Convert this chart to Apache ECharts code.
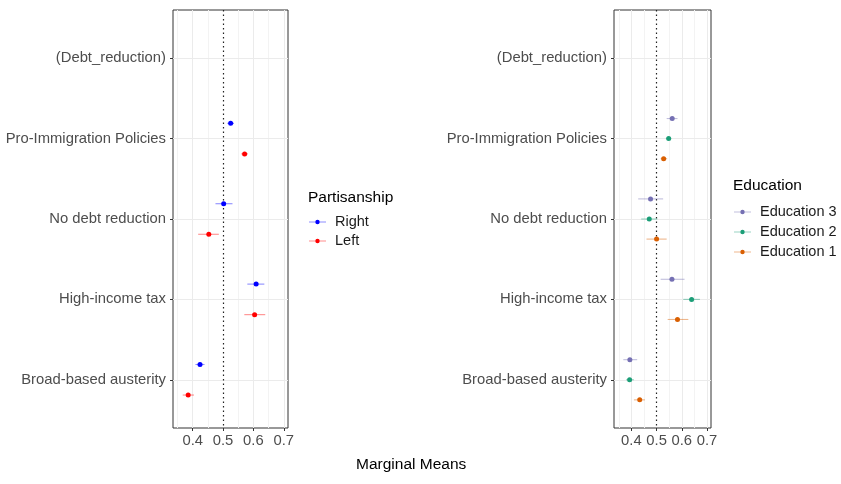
<!DOCTYPE html>
<html>
<head>
<meta charset="utf-8">
<script src="https://cdn.jsdelivr.net/npm/echarts@6/dist/echarts.min.js"></script>
<style>
  html, body { margin: 0; padding: 0; background: #ffffff; }
  #chart { width: 841px; height: 484px; }
</style>
</head>
<body>
<div id="chart"></div>
<script>
// Attribute levels, top to bottom (the first is the reference level, no estimate)
const categories = ['(Debt_reduction)', 'Pro-Immigration Policies', 'No debt reduction', 'High-income tax', 'Broad-based austerity'];
const categoryPositions = [1, 2, 3, 4, 5];
const xTicks = [0.4, 0.5, 0.6, 0.7];
const xMinorTicks = [0.35, 0.45, 0.55, 0.65];
const referenceValue = 0.5;

// Partisanship: marginal means with 95% interval bounds
const rightMean = [null, 0.525, 0.502, 0.609, 0.424];
const rightLow  = [null, 0.514, 0.475, 0.580, 0.409];
const rightHigh = [null, 0.536, 0.531, 0.636, 0.439];
const leftMean  = [null, 0.571, 0.453, 0.604, 0.385];
const leftLow   = [null, 0.560, 0.418, 0.570, 0.367];
const leftHigh  = [null, 0.582, 0.486, 0.639, 0.404];

// Education: marginal means with 95% interval bounds
const edu3Mean = [null, 0.562, 0.476, 0.561, 0.394];
const edu3Low  = [null, 0.540, 0.427, 0.516, 0.368];
const edu3High = [null, 0.583, 0.526, 0.611, 0.423];
const edu2Mean = [null, 0.548, 0.471, 0.639, 0.393];
const edu2Low  = [null, 0.537, 0.439, 0.606, 0.379];
const edu2High = [null, 0.558, 0.503, 0.672, 0.410];
const edu1Mean = [null, 0.528, 0.500, 0.583, 0.433];
const edu1Low  = [null, 0.516, 0.460, 0.544, 0.410];
const edu1High = [null, 0.542, 0.540, 0.626, 0.454];

const FONT = 'Liberation Sans, Arial, Helvetica, sans-serif';
const AXIS_TEXT = '#4d4d4d';
const AXIS_SIZE = 14.8;
const GRID_MAJOR = '#ebebeb';
const GRID_MINOR = '#f3f3f3';

// Rows: [mean, low, high, category position + dodge]
function rows(mean, low, high, dodge) {
  const out = [];
  mean.forEach((m, i) => {
    if (m !== null) out.push([m, low[i], high[i], categoryPositions[i] + dodge]);
  });
  return out;
}

function pointRange(color) {
  return function (params, api) {
    const y = api.value(3);
    const c = api.coord([api.value(0), y]);
    const a = api.coord([api.value(1), y]);
    const b = api.coord([api.value(2), y]);
    return {
      type: 'group',
      children: [
        { type: 'line', shape: { x1: a[0], y1: a[1], x2: b[0], y2: b[1] },
          style: { stroke: color, lineWidth: 1.1, opacity: 0.45 } },
        { type: 'circle', shape: { cx: c[0], cy: c[1], r: 2.5 }, style: { fill: color } }
      ]
    };
  };
}

function keyIcon(color) {
  const svg = '<svg xmlns="http://www.w3.org/2000/svg" width="21" height="8">' +
    '<line x1="0" y1="4" x2="17" y2="4" stroke="' + color + '" stroke-opacity="0.45" stroke-width="1"/>' +
    '<circle cx="8.5" cy="4" r="2.2" fill="' + color + '"/></svg>';
  return 'image://data:image/svg+xml;charset=utf-8,' + encodeURIComponent(svg);
}

function xAxisFor(gridIndex, min, max) {
  return {
    type: 'value', gridIndex: gridIndex, min: min, max: max, position: 'bottom',
    axisLine: { show: false, onZero: false },
    axisTick: { show: true, inside: false, length: 3, customValues: xTicks, lineStyle: { color: '#333333' } },
    axisLabel: { customValues: xTicks, margin: 5, color: AXIS_TEXT, fontSize: AXIS_SIZE, fontFamily: FONT,
                 formatter: v => v.toFixed(1) },
    splitLine: { show: false }
  };
}

function yAxisFor(gridIndex) {
  return {
    type: 'value', gridIndex: gridIndex, inverse: true, min: 0.4, max: 5.6, position: 'left',
    axisLine: { show: false, onZero: false },
    axisTick: { show: true, inside: false, length: 3, customValues: categoryPositions, lineStyle: { color: '#333333' } },
    axisLabel: { customValues: categoryPositions, margin: 7, color: AXIS_TEXT, fontSize: AXIS_SIZE, fontFamily: FONT,
                 formatter: v => categories[Math.round(v) - 1] },
    splitLine: { show: false }
  };
}

// Panel grid lines (major, minor, category rows) and the dotted 0.5 reference line
function guides(axisIndex) {
  const solid = (color) => ({ color: color, width: 1, type: 'solid' });
  const lines = []
    .concat(xMinorTicks.map(v => ({ xAxis: v, lineStyle: solid(GRID_MINOR) })))
    .concat(xTicks.filter(v => v !== referenceValue).map(v => ({ xAxis: v, lineStyle: solid(GRID_MAJOR) })))
    .concat(categoryPositions.map(v => ({ yAxis: v, lineStyle: solid(GRID_MAJOR) })))
    .concat([{ xAxis: referenceValue, lineStyle: { color: '#222222', width: 1.2, type: [1.5, 3] } }]);
  return {
    type: 'line', xAxisIndex: axisIndex, yAxisIndex: axisIndex, data: [], z: 1, silent: true,
    markLine: { z: 1, silent: true, symbol: 'none', animation: false, label: { show: false },
                emphasis: { disabled: true }, data: lines }
  };
}

function panelSeries(name, color, data, axisIndex) {
  return {
    name: name, type: 'custom', xAxisIndex: axisIndex, yAxisIndex: axisIndex, z: 10,
    itemStyle: { color: color },
    renderItem: pointRange(color),
    encode: { x: [0, 1, 2], y: 3 },
    data: data
  };
}

const COLORS = { right: '#0000ff', left: '#ff0000', edu3: '#7570b3', edu2: '#1b9e77', edu1: '#d95f02' };

const chart = echarts.init(document.getElementById('chart'), null, { renderer: 'canvas' });
chart.setOption({
  animation: false,
  backgroundColor: '#ffffff',
  textStyle: { fontFamily: FONT },
  title: [
    { text: 'Partisanship', left: 308, top: 190, padding: 0,
      textStyle: { fontSize: 15.5, fontWeight: 'normal', color: '#000000', fontFamily: FONT } },
    { text: 'Education', left: 733, top: 178, padding: 0,
      textStyle: { fontSize: 15.5, fontWeight: 'normal', color: '#000000', fontFamily: FONT } },
    { text: 'Marginal Means', left: 356, top: 457, padding: 0,
      textStyle: { fontSize: 15.5, fontWeight: 'normal', color: '#000000', fontFamily: FONT } }
  ],
  legend: [
    { orient: 'vertical', left: 309, top: 214, padding: 0, itemGap: 3, itemWidth: 21, itemHeight: 8,
      selectedMode: false,
      textStyle: { fontSize: 14.5, color: '#1a1a1a', lineHeight: 16, fontFamily: FONT },
      data: [ { name: 'Right', icon: keyIcon(COLORS.right) }, { name: 'Left', icon: keyIcon(COLORS.left) } ] },
    { orient: 'vertical', left: 734, top: 204, padding: 0, itemGap: 4, itemWidth: 21, itemHeight: 8,
      selectedMode: false,
      textStyle: { fontSize: 14.5, color: '#1a1a1a', lineHeight: 16, fontFamily: FONT },
      data: [ { name: 'Education 3', icon: keyIcon(COLORS.edu3) },
              { name: 'Education 2', icon: keyIcon(COLORS.edu2) },
              { name: 'Education 1', icon: keyIcon(COLORS.edu1) } ] }
  ],
  grid: [
    { left: 173, top: 10, width: 115, height: 418, show: true, borderColor: '#333333', borderWidth: 1,
      backgroundColor: 'transparent', containLabel: false },
    { left: 614, top: 10, width: 97, height: 418, show: true, borderColor: '#333333', borderWidth: 1,
      backgroundColor: 'transparent', containLabel: false }
  ],
  xAxis: [ xAxisFor(0, 0.335, 0.714), xAxisFor(1, 0.331, 0.716) ],
  yAxis: [ yAxisFor(0), yAxisFor(1) ],
  series: [
    guides(0),
    guides(1),
    panelSeries('Right', COLORS.right, rows(rightMean, rightLow, rightHigh, -0.19), 0),
    panelSeries('Left', COLORS.left, rows(leftMean, leftLow, leftHigh, 0.19), 0),
    panelSeries('Education 3', COLORS.edu3, rows(edu3Mean, edu3Low, edu3High, -0.25), 1),
    panelSeries('Education 2', COLORS.edu2, rows(edu2Mean, edu2Low, edu2High, 0), 1),
    panelSeries('Education 1', COLORS.edu1, rows(edu1Mean, edu1Low, edu1High, 0.25), 1)
  ]
});
</script>
</body>
</html>
